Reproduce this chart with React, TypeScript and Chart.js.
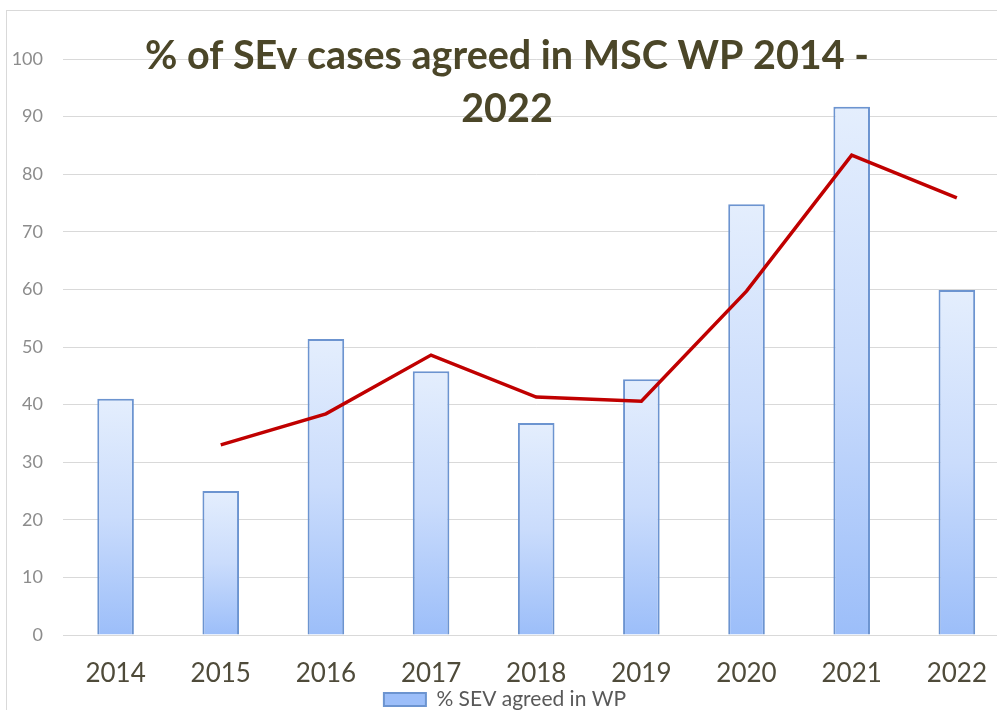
import React, { useEffect, useRef } from "react";
import { Chart, registerables } from "chart.js";

Chart.register(...registerables);

const categories = ["2014", "2015", "2016", "2017", "2018", "2019", "2020", "2021", "2022"];
const agreedValues = [41.0, 25.0, 51.4, 45.8, 36.8, 44.4, 74.8, 91.7, 59.9];
const trendValues: (number | null)[] = [null, 33.0, 38.4, 48.6, 41.3, 40.6, 59.7, 83.3, 75.9];
const yTicks = [0, 10, 20, 30, 40, 50, 60, 70, 80, 90, 100];
const titleLines = ["% of SEv cases agreed in MSC WP 2014 -", "2022"];
const barLabel = "% SEV agreed in WP";

const titlePlugin = {
  id: "overlayTitle",
  afterDraw(chart: any) {
    const c = chart.ctx;
    c.save();
    c.font = "bold 39.5px Lato";
    c.fillStyle = "#4b4628";
    c.textAlign = "center";
    c.textBaseline = "alphabetic";
    const cx = chart.width / 2 + 2;
    c.fillText(titleLines[0], cx, 69);
    c.fillText(titleLines[1], cx, 122);
    c.restore();
  },
};

export default function App() {
  const ref = useRef<HTMLCanvasElement | null>(null);

  useEffect(() => {
    if (!ref.current) return;
    const barFill = (ctx: any) => {
      const chart = ctx.chart;
      const c = chart.ctx;
      let yTop = NaN;
      let yBot = NaN;
      if (ctx.type === "data" && chart.scales && chart.scales.y) {
        const y = chart.scales.y;
        yTop = y.getPixelForValue(ctx.raw as number);
        yBot = y.getPixelForValue(0);
      }
      if (!isFinite(yTop) || !isFinite(yBot) || yBot - yTop < 1) {
        const top = chart.height - 37;
        const g = c.createLinearGradient(0, top, 0, top + 14);
        g.addColorStop(0, "#e4eefd");
        g.addColorStop(1, "#b3cefb");
        return g;
      }
      const g = c.createLinearGradient(0, yTop, 0, yBot);
      g.addColorStop(0, "#e4eefd");
      g.addColorStop(0.5, "#cadcfc");
      g.addColorStop(1, "#9cbef9");
      return g;
    };

    const chart = new Chart(ref.current, {
      type: "bar",
      data: {
        labels: categories,
        datasets: [
          {
            type: "line",
            label: "trend",
            data: trendValues,
            borderColor: "#c00000",
            borderWidth: 3.5,
            pointRadius: 0,
            tension: 0,
            fill: false,
            order: 0,
          } as any,
          {
            type: "bar",
            label: barLabel,
            data: agreedValues,
            backgroundColor: barFill,
            borderColor: "#6c94d0",
            borderWidth: 2,
            categoryPercentage: 1,
            barPercentage: 0.348,
            order: 1,
          } as any,
        ],
      },
      options: {
        animation: false,
        responsive: false,
        maintainAspectRatio: false,
        layout: { padding: { top: 59, left: 0, right: 0, bottom: 10 } },
        plugins: {
          title: { display: false },
          tooltip: { enabled: false },
          legend: {
            display: true,
            position: "bottom",
            labels: {
              font: { family: "Lato", size: 21 },
              color: "#595959",
              boxWidth: 42,
              boxHeight: 13,
              padding: 3,
              filter: (item: any) => item.text === barLabel,
            },
          },
        },
        scales: {
          x: {
            grid: { display: false, drawTicks: false },
            border: { display: true, color: "#d9d9d9" },
            ticks: {
              font: { family: "Lato", size: 26 },
              color: "#4f4b3a",
              padding: 23,
            },
            afterFit: (s: any) => {
              s.height = 51;
            },
          },
          y: {
            min: 0,
            max: 100,
            afterBuildTicks: (s: any) => {
              s.ticks = yTicks.map((v) => ({ value: v }));
            },
            grid: { color: "#d9d9d9", lineWidth: 1, drawTicks: false },
            border: { display: false },
            ticks: {
              font: { family: "Lato", size: 18 },
              color: "#8c8c8c",
              padding: 20,
            },
            afterFit: (s: any) => {
              s.width = 63;
            },
          },
        },
      },
      plugins: [titlePlugin],
    });
    return () => chart.destroy();
  }, []);

  return (
    <div
      style={{
        position: "fixed",
        left: 0,
        top: 0,
        width: 997,
        height: 710,
        overflow: "hidden",
        background: "#ffffff",
      }}
    >
      <div
        style={{
          position: "absolute",
          left: 6,
          top: 10,
          width: 1200,
          height: 900,
          border: "1px solid #d9d9d9",
          boxSizing: "border-box",
        }}
      />
      <canvas
        ref={ref}
        width={1010}
        height={730}
        style={{ position: "absolute", left: 0, top: 0, width: 1010, height: 730 }}
      />
    </div>
  );
}
